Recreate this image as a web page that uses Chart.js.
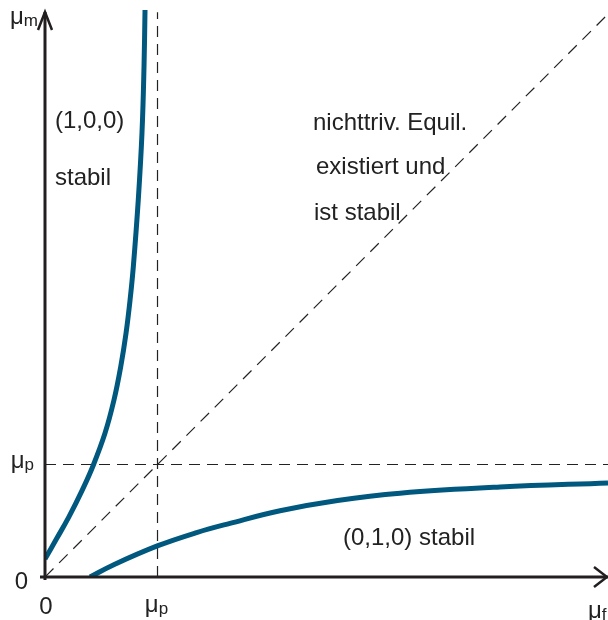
<!DOCTYPE html>
<html>
<head>
    <title>Stabilitaetsbereiche</title>
    <script src="https://cdn.jsdelivr.net/npm/chart.js"></script>
    <style>
        body { margin: 0; background: #fff; }
    </style>
</head>
<body>
    <canvas id="stabChart" width="608" height="620"></canvas>

    <script>
        // Kurve (1,0,0) stabil -> links, fast senkrecht
        var leftX = [0, 0.1, 0.21, 0.33, 0.43, 0.533, 0.613, 0.673, 0.72, 0.756, 0.785, 0.829, 0.862, 0.88, 0.889];
        var leftY = [0.16, 0.335, 0.53, 0.77, 0.996, 1.277, 1.573, 1.869, 2.166, 2.462, 2.758, 3.351, 3.947, 4.536, 5.04];
        // Kurve (0,1,0) stabil -> unten, saettigend
        var lowX = [0.4, 0.607, 0.998, 1.348, 1.644, 2.089, 2.6, 3.156, 4.044, 5.004];
        var lowY = [0, 0.107, 0.276, 0.395, 0.477, 0.589, 0.68, 0.745, 0.8, 0.836];

        var muP = 1;           // Lage von mu_p auf beiden Achsen
        var xMax = 5.004;
        var yMax = 5.058;

        var xTickValues = [0, muP];
        var xTickLabels = [['0', ''], ['\u03bc', 'p']];
        var yTickValues = [0, muP];
        var yTickLabels = [['0', ''], ['\u03bc', 'p']];

        var curveColor = '#00587f';
        var inkColor = '#231f20';
        var fontFam = '"Liberation Sans", Arial, sans-serif';

        function toPoints(xs, ys) {
            var pts = [];
            for (var i = 0; i < xs.length; i++) pts.push({ x: xs[i], y: ys[i] });
            return pts;
        }

        // Text mit tiefgestelltem Index
        function drawSub(ctx, main, sub, x, y, align, size) {
            var subSize = Math.round(size * 0.7);
            ctx.font = size + 'px ' + fontFam;
            var w1 = ctx.measureText(main).width;
            ctx.font = subSize + 'px ' + fontFam;
            var w2 = sub ? ctx.measureText(sub).width : 0;
            var start = x;
            if (align === 'center') start = x - (w1 + w2) / 2;
            if (align === 'right') start = x - (w1 + w2);
            ctx.textAlign = 'left';
            ctx.textBaseline = 'alphabetic';
            ctx.font = size + 'px ' + fontFam;
            ctx.fillText(main, start, y);
            if (sub) {
                ctx.font = subSize + 'px ' + fontFam;
                ctx.fillText(sub, start + w1, y + 2);
            }
        }

        var axesPlugin = {
            id: 'axesPlugin',
            afterDraw: function (chart) {
                var ctx = chart.ctx;
                var xs = chart.scales.x, ys = chart.scales.y;
                var x0 = xs.getPixelForValue(0), y0 = ys.getPixelForValue(0);
                var right = chart.chartArea.right, top = chart.chartArea.top;
                ctx.save();
                ctx.strokeStyle = inkColor;
                ctx.fillStyle = inkColor;
                ctx.lineWidth = 3;
                ctx.lineCap = 'butt';
                // Achsen
                ctx.beginPath();
                ctx.moveTo(x0, y0 + 3);
                ctx.lineTo(x0, top + 4);
                ctx.moveTo(x0 - 5, y0);
                ctx.lineTo(right, y0);
                ctx.stroke();
                // Pfeilspitzen
                ctx.lineWidth = 2.5;
                ctx.beginPath();
                ctx.moveTo(x0 - 7, top + 22);
                ctx.lineTo(x0, top + 4);
                ctx.lineTo(x0 + 7, top + 22);
                ctx.moveTo(right - 14, y0 - 10);
                ctx.lineTo(right - 1, y0);
                ctx.lineTo(right - 14, y0 + 10);
                ctx.stroke();

                // Achsenbeschriftung
                ctx.fillStyle = '#222';
                xTickValues.forEach(function (v, i) {
                    var px = xs.getPixelForValue(v);
                    drawSub(ctx, xTickLabels[i][0], xTickLabels[i][1], px + (i === 0 ? 1 : -1), y0 + (i === 0 ? 37 : 35), 'center', 24);
                });
                yTickValues.forEach(function (v, i) {
                    var py = ys.getPixelForValue(v);
                    drawSub(ctx, yTickLabels[i][0], yTickLabels[i][1], x0 - (i === 0 ? 17 : 11), py + (i === 0 ? 12 : 3), 'right', 24);
                });
                drawSub(ctx, '\u03bc', 'm', 10, 24, 'left', 24);
                drawSub(ctx, '\u03bc', 'f', 588, 618, 'left', 24);

                // Bereichstexte
                ctx.font = '24px ' + fontFam;
                ctx.textAlign = 'left';
                ctx.textBaseline = 'alphabetic';
                ctx.fillText('(1,0,0)', 55, 128);
                ctx.fillText('stabil', 55, 185);
                ctx.fillText('nichttriv. Equil.', 313, 130);
                ctx.fillText('existiert und', 316, 174);
                ctx.fillText('ist stabil', 314, 220);
                ctx.fillText('(0,1,0) stabil', 343, 545);
                ctx.restore();
            }
        };

        var ctx = document.getElementById('stabChart').getContext('2d');
        var chart = new Chart(ctx, {
            type: 'scatter',
            data: {
                datasets: [
                    {
                        data: toPoints(leftX, leftY),
                        showLine: true,
                        borderColor: curveColor,
                        borderWidth: 5,
                        tension: 0.4,
                        pointRadius: 0
                    },
                    {
                        data: toPoints(lowX, lowY),
                        showLine: true,
                        borderColor: curveColor,
                        borderWidth: 5,
                        tension: 0.4,
                        pointRadius: 0
                    },
                    {
                        data: [{ x: 0, y: 0 }, { x: 6, y: 6 }],
                        showLine: true,
                        borderColor: '#222',
                        borderWidth: 1.2,
                        borderDash: [12, 8],
                        pointRadius: 0
                    },
                    {
                        data: [{ x: muP, y: 0 }, { x: muP, y: 5.02 }],
                        showLine: true,
                        borderColor: '#222',
                        borderWidth: 1.2,
                        borderDash: [11, 7],
                        pointRadius: 0
                    },
                    {
                        data: [{ x: 0, y: muP }, { x: xMax, y: muP }],
                        showLine: true,
                        borderColor: '#222',
                        borderWidth: 1.2,
                        borderDash: [11, 7],
                        pointRadius: 0
                    }
                ]
            },
            options: {
                responsive: false,
                animation: false,
                devicePixelRatio: 1,
                layout: { padding: { left: 45, top: 8, right: 0, bottom: 43 } },
                plugins: {
                    legend: { display: false },
                    tooltip: { enabled: false }
                },
                scales: {
                    x: { type: 'linear', display: false, min: 0, max: xMax },
                    y: { type: 'linear', display: false, min: 0, max: yMax }
                }
            },
            plugins: [axesPlugin]
        });
    </script>
</body>
</html>
